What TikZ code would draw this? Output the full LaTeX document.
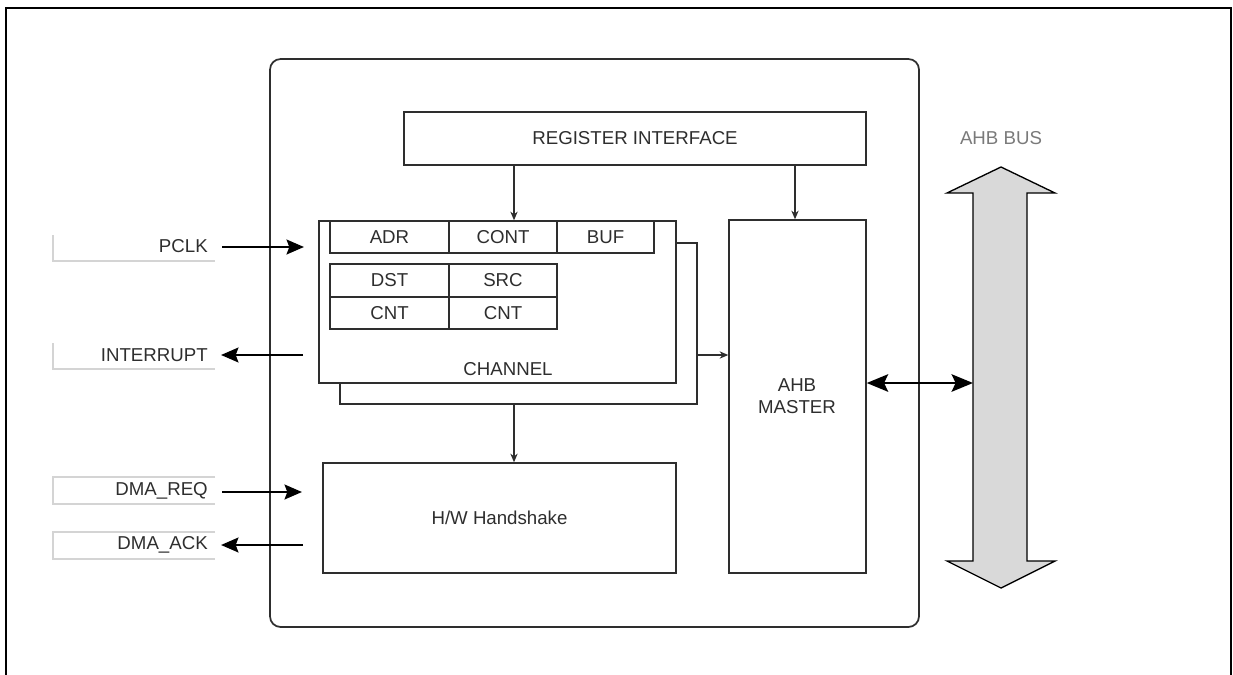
\documentclass[tikz,border=0pt]{standalone}
\usepackage{fontspec}
\setmainfont{Liberation Sans}
\usetikzlibrary{arrows.meta,fit}
\definecolor{ink}{HTML}{2E2E2E}
\definecolor{busfill}{HTML}{D9D9D9}
\definecolor{pale}{HTML}{D4D4D4}
\definecolor{labgray}{HTML}{7A7A7A}
\tikzset{
  blk/.style={draw=ink, line width=1.1pt, fill=white, inner sep=0pt},
  txt/.style={inner sep=0pt, text=ink, font=\fontsize{14}{17}\selectfont},
  thin arr/.style={draw=ink, line width=0.9pt, -{Stealth[length=6.5pt,width=5.5pt]}},
  sig arr/.style={draw=black, line width=2.2pt, -{Stealth[length=13pt,width=11pt,inset=2pt]}},
  bi arr/.style={draw=black, line width=2.2pt, {Stealth[length=16pt,width=13pt,inset=3pt]}-{Stealth[length=16pt,width=13pt,inset=3pt]}},
  paleline/.style={draw=pale, line width=0.8pt},
}
\begin{document}
\begin{tikzpicture}[x=0.75pt,y=-0.75pt]
\useasboundingbox (0,0) rectangle (1233,675);
% outer frame (bottom open)
\draw[line width=1.6pt, black] (6,675) -- (6,8) -- (1231,8) -- (1231,675);
% main rounded block
\draw[draw=ink, line width=1.3pt, rounded corners=8pt] (270,59) rectangle (919,627);
% register interface
\node[blk, fit={(404,112) (866,165)}] (regif) {};
\node[txt] at (regif.center) {REGISTER INTERFACE};
% channel boxes
\node[blk, fit={(340,243) (697,404)}] (chback) {};
\node[blk, fit={(319,221) (676,383)}] (chfront) {};
\node[txt] (chlabel) at (508,369) {CHANNEL};
\node[blk, fit={(330,221) (449,253)}] (adr) {};
\node[blk, fit={(449,221) (557,253)}] (cont) {};
\node[blk, fit={(557,221) (654,253)}] (buf) {};
\node[blk, fit={(330,264) (449,297)}] (dst) {};
\node[blk, fit={(449,264) (557,297)}] (src) {};
\node[blk, fit={(330,297) (449,329)}] (cnta) {};
\node[blk, fit={(449,297) (557,329)}] (cntb) {};
\node[txt] at (adr.center) {ADR};
\node[txt] at (cont.center) {CONT};
\node[txt] at (buf.center) {BUF};
\node[txt] at (dst.center) {DST};
\node[txt] at (src.center) {SRC};
\node[txt] at (cnta.center) {CNT};
\node[txt] at (cntb.center) {CNT};
% AHB master
\node[blk, fit={(729,220) (866,573)}] (ahbm) {};
\node[txt, align=center] (ahbmlabel) at (797,396) {AHB\\MASTER};
% handshake
\node[blk, fit={(323,463) (676,573)}] (hws) {};
\node[txt] at (hws.center) {H/W Handshake};
% internal arrows
\draw[thin arr] (regif.south -| 514,0) -- (cont.north -| 514,0);
\draw[thin arr] (regif.south -| 795,0) -- (ahbm.north -| 795,0);
\draw[thin arr] (chback.east |- 0,355) -- (ahbm.west |- 0,355);
\draw[thin arr] (chback.south -| 514,0) -- (hws.north -| 514,0);
% AHB bus arrow
\draw[fill=busfill, draw=black, line width=1pt, line join=miter]
  (973,561) -- (973,193) -- (947,193) -- (1001,167) -- (1055,193) -- (1027,193)
  -- (1027,561) -- (1055,561) -- (1001,588) -- (947,561) -- cycle;
\coordinate (busL) at (973,383);
\node[inner sep=0pt, text=labgray, font=\fontsize{14}{17}\selectfont] (buslabel) at (1001,138) {AHB BUS};
\draw[bi arr] (ahbm.east |- busL) -- (busL);
% left signals
\draw[paleline] (53,235) -- (53,261) -- (215,261);
\node[txt, anchor=east] (pclk) at (208,246) {PCLK};
\coordinate (pclkE) at (304,247);
\draw[sig arr] (222,247) -- (pclkE);

\draw[paleline] (53,343) -- (53,369) -- (215,369);
\node[txt, anchor=east] (intr) at (208,355) {INTERRUPT};
\coordinate (intrS) at (303,355);
\draw[sig arr] (intrS) -- (221,355);

\draw[paleline] (215,477) -- (53,477) -- (53,504) -- (215,504);
\node[txt, anchor=east] (dreq) at (208,491) {DMA\_REQ};
\coordinate (dreqE) at (302,492);
\draw[sig arr] (222,492) -- (dreqE);

\draw[paleline] (215,532) -- (53,532) -- (53,559) -- (215,559);
\node[txt, anchor=east] (dack) at (208,545) {DMA\_ACK};
\coordinate (dackS) at (303,545);
\draw[sig arr] (dackS) -- (221,545);
\end{tikzpicture}
\end{document}
